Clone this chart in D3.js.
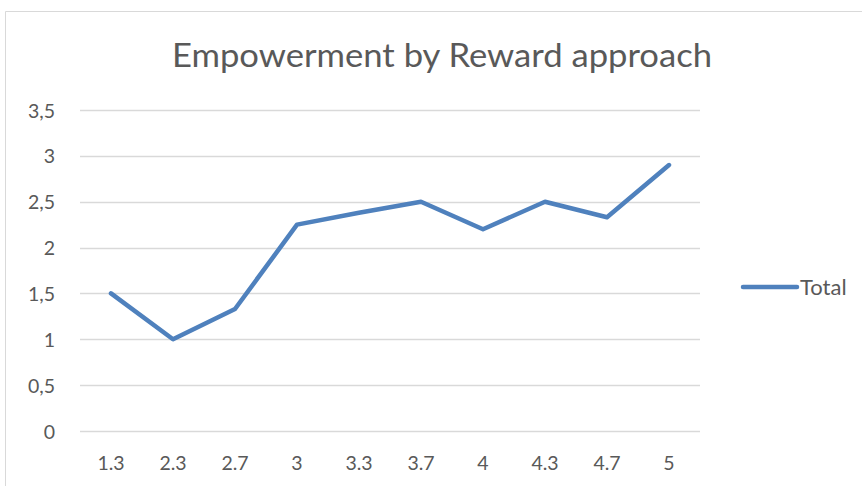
<!DOCTYPE html>
<html>
<head>
<meta charset="utf-8">
<script src="https://cdn.jsdelivr.net/npm/d3@7"></script>
<style>
  body { margin: 0; background: #fff; }
  text { font-family: Lato, "Open Sans", sans-serif; fill: #595959; }
</style>
</head>
<body>
<div id="chart"></div>
<script>
// ------ Data ---------------//
var categories = ["1.3", "2.3", "2.7", "3", "3.3", "3.7", "4", "4.3", "4.7", "5"];
var totalValues = [1.5, 1.0, 1.33, 2.25, 2.38, 2.5, 2.2, 2.5, 2.33, 2.9];
var yTicks = [0, 0.5, 1, 1.5, 2, 2.5, 3, 3.5];
var seriesName = "Total";
var chartTitle = "Empowerment by Reward approach";

var width = 862, height = 486;

var svg = d3.select("#chart").append("svg")
  .attr("width", width)
  .attr("height", height);

// chart area border (only top & left visible in the crop)
svg.append("path")
  .attr("d", "M5.5," + height + "V11.5H" + width)
  .attr("fill", "none")
  .attr("stroke", "#d9d9d9")
  .attr("stroke-width", 1);

// ------ Scales ---------------//
var x = d3.scaleBand()
  .domain(categories)
  .range([80, 700]);

var y = d3.scaleLinear()
  .domain([0, 3.5])
  .range([431, 110]);

// ------ Gridlines ---------------//
svg.append("g")
  .selectAll("line")
  .data(yTicks)
  .join("line")
  .attr("x1", 80)
  .attr("x2", 700)
  .attr("y1", d => Math.round(y(d)) + 0.5)
  .attr("y2", d => Math.round(y(d)) + 0.5)
  .attr("stroke", "#d9d9d9")
  .attr("stroke-width", 1.5);

// ------ Axes ---------------//
var fmt = d => String(d).replace(".", ",");
var tickFont = 19.5;

var yAxis = svg.append("g")
  .attr("transform", "translate(80,0)")
  .call(d3.axisLeft(y).tickValues(yTicks).tickFormat(fmt).tickSize(0).tickPadding(25));
yAxis.select(".domain").remove();
yAxis.selectAll("text")
  .attr("font-size", tickFont)
  .attr("fill", "#595959")
  .attr("dy", "0.36em")
  .style("font-family", "Lato, 'Open Sans', sans-serif");

var xAxis = svg.append("g")
  .attr("transform", "translate(0,431)")
  .call(d3.axisBottom(x).tickSize(0).tickPadding(25));
xAxis.select(".domain").remove();
xAxis.selectAll("text")
  .attr("font-size", tickFont)
  .attr("fill", "#595959")
  .style("font-family", "Lato, 'Open Sans', sans-serif");

// ------ Line ---------------//
var line = d3.line()
  .x((d, i) => x(categories[i]) + x.bandwidth() / 2)
  .y(d => y(d));

svg.append("path")
  .datum(totalValues)
  .attr("d", line)
  .attr("fill", "none")
  .attr("stroke", "#4f81bd")
  .attr("stroke-width", 4.5)
  .attr("stroke-linejoin", "round")
  .attr("stroke-linecap", "round");

// ------ Title ---------------//
svg.append("text")
  .attr("x", 442)
  .attr("y", 67)
  .attr("text-anchor", "middle")
  .attr("font-size", 33)
  .attr("textLength", 540)
  .attr("lengthAdjust", "spacingAndGlyphs")
  .text(chartTitle);

// ------ Legend ---------------//
var legend = svg.append("g").attr("transform", "translate(743,287)");
legend.append("line")
  .attr("x1", 0).attr("x2", 54)
  .attr("stroke", "#4f81bd")
  .attr("stroke-width", 4.5)
  .attr("stroke-linecap", "round");
legend.append("text")
  .attr("x", 57)
  .attr("y", 8)
  .attr("font-size", 22)
  .text(seriesName);
</script>
</body>
</html>
